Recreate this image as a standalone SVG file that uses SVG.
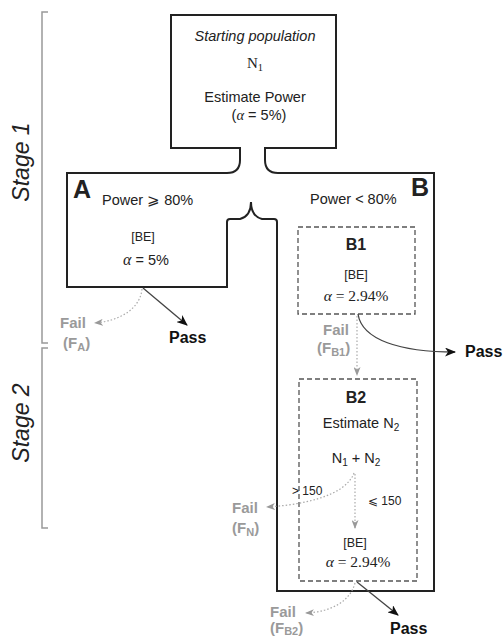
<svg xmlns="http://www.w3.org/2000/svg" width="504" height="639" viewBox="0 0 504 639">
<style>
text{font-family:"Liberation Sans",Arial,sans-serif;fill:#222}
.serif{font-family:"Liberation Serif","Times New Roman",serif}
.t{font-size:14.5px}
.be{font-size:12.5px}
.big{font-size:25px;font-weight:bold}
.hd{font-size:16px;font-weight:bold}
.pass{font-size:16px;font-weight:bold;fill:#111}
.fail{font-size:15px;font-weight:bold;fill:#9a9a9a}
.stage{font-size:23px;font-style:italic;fill:#222}
.small{font-size:12px}
.outline{fill:none;stroke:#222;stroke-width:2}
.dash{fill:none;stroke:#555;stroke-width:1.3;stroke-dasharray:5 3}
.br{fill:none;stroke:#999;stroke-width:1.5}
.pa{fill:none;stroke:#444;stroke-width:1.3}
.fa{fill:none;stroke:#aaa;stroke-width:1.2;stroke-dasharray:1.5 2}
</style>
<defs>
<marker id="ph" markerUnits="userSpaceOnUse" markerWidth="11" markerHeight="9" refX="10" refY="4.5" orient="auto">
<path d="M0,0 L11,4.5 L0,9 L3,4.5 Z" fill="#111"/>
</marker>
<marker id="fh" markerUnits="userSpaceOnUse" markerWidth="9" markerHeight="7" refX="8" refY="3.5" orient="auto">
<path d="M0,0 L9,3.5 L0,7 L2.5,3.5 Z" fill="#999"/>
</marker>
</defs>

<g id="stages">
<path class="br" d="M48,12 L42,12 L42,343 L48,343"/>
<path class="br" d="M48,348 L42,348 L42,528 L48,528"/>
<text class="stage" transform="translate(29,162) rotate(-90)" text-anchor="middle">Stage 1</text>
<text class="stage" transform="translate(29,423) rotate(-90)" text-anchor="middle">Stage 2</text>
</g>

<g id="outline">
<path class="outline" d="M171,15 L336,15 L336,148 L265,148 L265,160 Q265,173 278,173 L434,173 L434,591 L277,591 L277,222 Q277,219 274,219 L262,219 Q251,216 251,202 Q251,216 240,219 L230,219 Q227,219 227,222 L227,287 L67,287 L67,173 L227,173 Q240,173 240,160 L240,148 L171,148 Z"/>
</g>

<g id="start">
<text x="255" y="41" text-anchor="middle" class="t" font-style="italic">Starting population</text>
<text x="255" y="68" text-anchor="middle" class="serif" font-size="15">N<tspan font-size="10.5" dy="3">1</tspan></text>
<text x="255" y="102" text-anchor="middle" class="t">Estimate Power</text>
<text x="259" y="120" text-anchor="middle" class="t">(<tspan class="serif" font-style="italic">α</tspan> = 5%)</text>
</g>

<g id="A">
<text x="73" y="198" class="big">A</text>
<text x="102" y="205" class="t">Power ⩾ 80%</text>
<text x="143" y="241" text-anchor="middle" class="be">[BE]</text>
<text x="146" y="265" text-anchor="middle" class="t"><tspan class="serif" font-style="italic" font-size="16">α</tspan> = 5%</text>
</g>

<g id="B">
<text x="411" y="196" class="big">B</text>
<text x="310" y="204" class="t">Power &lt; 80%</text>
</g>

<g id="B1">
<rect class="dash" x="298" y="227" width="117" height="87"/>
<text x="356" y="250" text-anchor="middle" class="hd">B1</text>
<text x="356" y="279" text-anchor="middle" class="be">[BE]</text>
<text x="356" y="301" text-anchor="middle" class="serif" font-size="15.5"><tspan font-style="italic">α</tspan> = 2.94%</text>
</g>

<g id="B2">
<rect class="dash" x="299" y="379" width="118" height="202"/>
<text x="356" y="403" text-anchor="middle" class="hd">B2</text>
<text x="361" y="428" text-anchor="middle" class="t">Estimate N<tspan font-size="10" dy="3">2</tspan></text>
<text x="356" y="463" text-anchor="middle" class="t">N<tspan font-size="10" dy="3">1</tspan><tspan dy="-3"> + N</tspan><tspan font-size="10" dy="3">2</tspan></text>
<text x="355" y="547" text-anchor="middle" class="be">[BE]</text>
<text x="358" y="567" text-anchor="middle" class="serif" font-size="15.5"><tspan font-style="italic">α</tspan> = 2.94%</text>
</g>

<g id="connectors">
<path class="pa" d="M143,288 L187,325" marker-end="url(#ph)"/>
<path class="fa" d="M142,289 C140,310 118,321 95,323" marker-end="url(#fh)"/>
<path class="pa" d="M358,314 C362,340 400,352 455,352" marker-end="url(#ph)"/>
<path class="fa" d="M357,316 L357,375" marker-end="url(#fh)"/>
<path class="fa" d="M354,473 C345,497 300,505 267,507" marker-end="url(#fh)"/>
<path class="fa" d="M355,474 L355,528" marker-end="url(#fh)"/>
<path class="pa" d="M357,582 L398,615" marker-end="url(#ph)"/>
<path class="fa" d="M355,583 C350,602 330,612 306,613" marker-end="url(#fh)"/>
</g>

<g id="labels">
<text x="292" y="495" class="small">&gt; 150</text>
<text x="368" y="505" class="small">⩽ 150</text>
<text x="169" y="343" class="pass">Pass</text>
<text x="465" y="357" class="pass">Pass</text>
<text x="390" y="634" class="pass">Pass</text>
<text x="60" y="328" class="fail">Fail</text>
<text x="63" y="348" class="fail">(F<tspan font-size="11" dy="3">A</tspan><tspan dy="-3">)</tspan></text>
<text x="323" y="335" class="fail">Fail</text>
<text x="317" y="353" class="fail">(F<tspan font-size="11" dy="3">B1</tspan><tspan dy="-3">)</tspan></text>
<text x="232" y="513" class="fail">Fail</text>
<text x="232" y="533" class="fail">(F<tspan font-size="11" dy="3">N</tspan><tspan dy="-3">)</tspan></text>
<text x="270" y="617" class="fail">Fail</text>
<text x="270" y="633" class="fail">(F<tspan font-size="11" dy="2">B2</tspan><tspan dy="-2">)</tspan></text>
</g>
</svg>
